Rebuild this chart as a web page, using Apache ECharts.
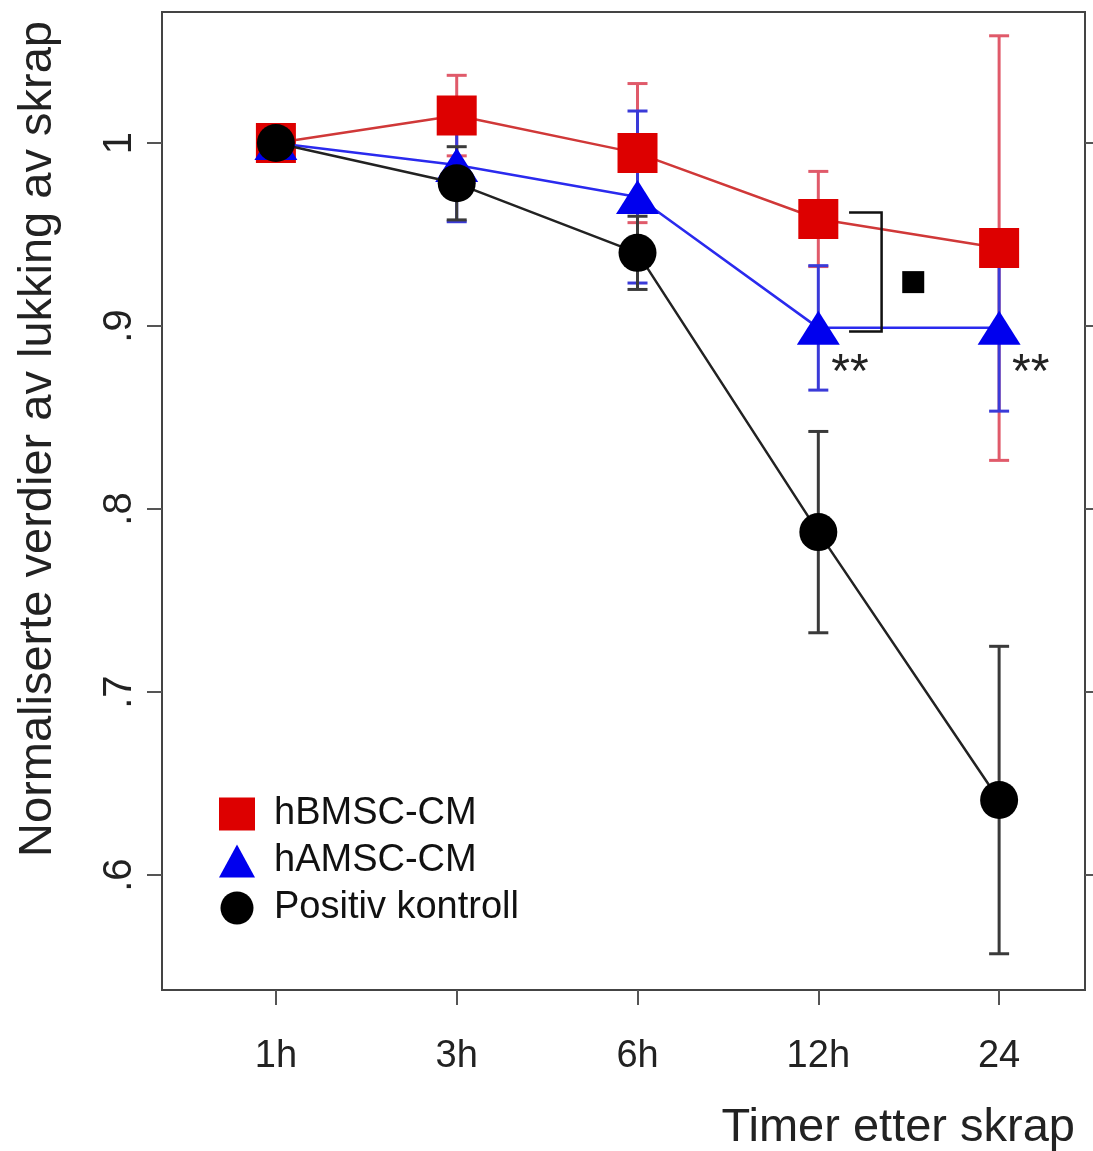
<!DOCTYPE html>
<html>
<head>
<meta charset="utf-8">
<script src="https://cdn.jsdelivr.net/npm/echarts@6/dist/echarts.min.js"></script>
<style>
html, body { margin: 0; padding: 0; background: #fff; }
#chart { width: 1093px; height: 1151px; }
</style>
</head>
<body>
<div id="chart"></div>
<script>
// categories / ticks
var timeLabels = ['1h', '3h', '6h', '12h', '24'];
var yTickValues = [0.6, 0.7, 0.8, 0.9, 1];
var yTickLabels = ['.6', '.7', '.8', '.9', '1'];

// series (mean and +/- error)
var bmscMean = [1.0, 1.015, 0.9945, 0.9585, 0.9426];
var bmscErr = [0, 0.022, 0.038, 0.026, 0.116];
var amscMean = [1.0, 0.988, 0.9705, 0.899, 0.899];
var amscErr = [0, 0.031, 0.047, 0.034, 0.0455];
var posMean = [1.0, 0.978, 0.94, 0.7874, 0.641];
var posErr = [0, 0.02, 0.02, 0.055, 0.084];

// significance marks (data units)
var bracketX = [3.17, 3.35];
var bracketY = [0.962, 0.897];
var sigSquare = [[3.525, 0.924]];
var starPoints = [[3, 0.899], [4, 0.899]];

var FONT = 'Liberation Sans, Arial, sans-serif';

function pts(mean) {
    return mean.map(function (m, i) { return [i, m]; });
}

function errorSeries(mean, err, color, width) {
    var data = mean.map(function (m, i) { return [i, m - err[i], m + err[i]]; });
    return {
        type: 'custom',
        silent: true,
        z: 1,
        data: data,
        encode: { x: 0, y: [1, 2] },
        renderItem: function (params, api) {
            var x = api.value(0);
            var lo = api.coord([x, api.value(1)]);
            var hi = api.coord([x, api.value(2)]);
            var hw = 10;
            var st = { stroke: color, lineWidth: width };
            return {
                type: 'group',
                children: [
                    { type: 'line', shape: { x1: lo[0], y1: lo[1], x2: hi[0], y2: hi[1] }, style: st },
                    { type: 'line', shape: { x1: lo[0] - hw, y1: lo[1], x2: lo[0] + hw, y2: lo[1] }, style: st },
                    { type: 'line', shape: { x1: hi[0] - hw, y1: hi[1], x2: hi[0] + hw, y2: hi[1] }, style: st }
                ]
            };
        }
    };
}

function yLabel(v) {
    for (var i = 0; i < yTickValues.length; i++) {
        if (Math.abs(yTickValues[i] - v) < 1e-6) return yTickLabels[i];
    }
    return '';
}

var chart = echarts.init(document.getElementById('chart'));

var option = {
    animation: false,
    backgroundColor: '#fff',
    grid: {
        left: 162, right: 8, top: 12, bottom: 161,
        show: true, borderColor: '#444', borderWidth: 2, backgroundColor: 'transparent'
    },
    legend: {
        orient: 'vertical',
        left: 214,
        top: 790,
        itemWidth: 36,
        itemHeight: 33,
        itemGap: 9,
        textStyle: { fontSize: 38, color: '#111', fontFamily: FONT, lineHeight: 33, padding: [0, 0, 0, 14] },
        data: [
            { name: 'hBMSC-CM', icon: 'rect' },
            { name: 'hAMSC-CM', icon: 'triangle' },
            { name: 'Positiv kontroll', icon: 'circle' }
        ]
    },
    xAxis: {
        type: 'value',
        min: -0.63,
        max: 4.475,
        splitLine: { show: false },
        axisLine: { show: false, onZero: false },
        axisTick: { show: true, customValues: [0, 1, 2, 3, 4], length: 15, lineStyle: { color: '#555', width: 2 } },
        axisLabel: {
            customValues: [0, 1, 2, 3, 4],
            formatter: function (v) { return timeLabels[Math.round(v)]; },
            fontSize: 38, color: '#222', fontFamily: FONT, margin: 48
        }
    },
    yAxis: [{
        type: 'value',
        position: 'left',
        min: 0.5372,
        max: 1.0716,
        splitLine: { show: false },
        axisLine: { show: false, onZero: false },
        axisTick: { show: true, customValues: yTickValues, length: 15, lineStyle: { color: '#555', width: 2 } },
        axisLabel: {
            customValues: yTickValues,
            formatter: yLabel,
            rotate: 90,
            fontSize: 40, color: '#222', fontFamily: FONT, margin: 22
        }
    }, {
        type: 'value',
        position: 'right',
        min: 0.5372,
        max: 1.0716,
        splitLine: { show: false },
        axisLine: { show: false, onZero: false },
        axisTick: { show: true, customValues: yTickValues, length: 10, lineStyle: { color: '#555', width: 2 } },
        axisLabel: { show: false }
    }],
    graphic: [{
        type: 'text',
        x: 38, y: 439,
        rotation: Math.PI / 2,
        style: {
            text: 'Normaliserte verdier av lukking av skrap',
            font: '47px ' + FONT, fill: '#222',
            textAlign: 'center', textVerticalAlign: 'middle'
        }
    }, {
        type: 'text',
        x: 1075, y: 1128,
        style: {
            text: 'Timer etter skrap',
            font: '47px ' + FONT, fill: '#222',
            textAlign: 'right', textVerticalAlign: 'middle'
        }
    }],
    series: [
        errorSeries(bmscMean, bmscErr, '#e05a6a', 3),
        errorSeries(amscMean, amscErr, '#3a3ad8', 3),
        errorSeries(posMean, posErr, '#3a3a3a', 3),
        {
            name: 'hBMSC-CM', type: 'line', z: 3,
            data: pts(bmscMean),
            symbol: 'rect', symbolSize: 40,
            itemStyle: { color: '#dd0000' },
            lineStyle: { color: '#d03838', width: 2.5 }
        },
        {
            name: 'hAMSC-CM', type: 'line', z: 4,
            data: pts(amscMean),
            symbol: 'triangle', symbolSize: [43, 34],
            itemStyle: { color: '#0000ee' },
            lineStyle: { color: '#2a2aee', width: 2.5 }
        },
        {
            name: 'Positiv kontroll', type: 'line', z: 5,
            data: pts(posMean),
            symbol: 'circle', symbolSize: 38,
            itemStyle: { color: '#000' },
            lineStyle: { color: '#222', width: 2.5 }
        },
        {
            type: 'custom', silent: true, z: 6,
            data: [[bracketX[0], bracketX[1], bracketY[0], bracketY[1]]],
            encode: { x: [0, 1], y: [2, 3] },
            renderItem: function (params, api) {
                var a = api.coord([api.value(0), api.value(2)]);
                var b = api.coord([api.value(1), api.value(2)]);
                var c = api.coord([api.value(1), api.value(3)]);
                var d = api.coord([api.value(0), api.value(3)]);
                return {
                    type: 'polyline',
                    shape: { points: [a, b, c, d] },
                    style: { stroke: '#111', lineWidth: 2.5, fill: null }
                };
            }
        },
        {
            type: 'scatter', silent: true, z: 6,
            data: sigSquare,
            symbol: 'rect', symbolSize: 22,
            itemStyle: { color: '#000', opacity: 1 }
        },
        {
            type: 'custom', silent: true, z: 6,
            data: starPoints,
            renderItem: function (params, api) {
                var p = api.coord([api.value(0), api.value(1)]);
                return {
                    type: 'text',
                    x: p[0] + 13, y: p[1] + 46,
                    style: { text: '**', font: '48px ' + FONT, fill: '#222', textAlign: 'left', textVerticalAlign: 'middle' }
                };
            }
        }
    ]
};

chart.setOption(option);
window.onresize = chart.resize;
</script>
</body>
</html>
